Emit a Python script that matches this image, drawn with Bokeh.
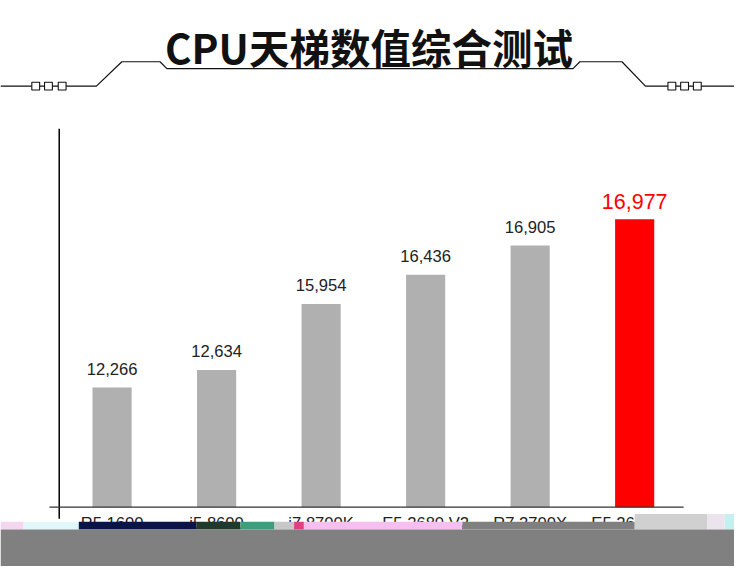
from bokeh.plotting import figure
from bokeh.models import Range1d
from bokeh.embed import file_html
from bokeh.resources import INLINE
from bokeh.core.properties import value

# ---------------- data ----------------
title_text = "CPU天梯数值综合测试"
cpus = ["R5 1600", "i5 8600", "i7 8700K", "E5 2680 V2", "R7 2700X", "E5 2696 V2"]
scores = [12266, 12634, 15954, 16436, 16905, 16977]
# bar heights as drawn in the picture (read against the red bar's scale)
drawn_heights = [7055, 8087, 11987, 13708, 15428, 16977]
highlight = [False, False, False, False, False, True]

# ---------------- layout (reference-picture pixels) ----------------
W, H = 734, 566              # canvas
REF_W, REF_H = 750, 582      # reference picture
BASE_Y = 521                 # baseline
FIRST_X = 114                # centre of first bar
STEP = 106.8                 # distance between bar centres
BAR_W = 40
PX_PER_UNIT = 296 / 16977    # vertical scale of the bars

idx = list(range(len(cpus)))
x_start = -FIRST_X / STEP
x_end = (REF_W - FIRST_X) / STEP
y_start = -(REF_H - BASE_Y) / PX_PER_UNIT
y_end = BASE_Y / PX_PER_UNIT

p = figure(width=W, height=H, x_range=Range1d(x_start, x_end),
           y_range=Range1d(y_start, y_end), min_border=0,
           toolbar_location=None, output_backend="svg",
           x_axis_location=None, y_axis_location=None,
           outline_line_color=None, background_fill_color="white",
           border_fill_color="white")
p.grid.visible = False
p.extra_x_ranges = {"px": Range1d(0, REF_W)}
p.extra_y_ranges = {"py": Range1d(REF_H, 0)}
PX = dict(x_range_name="px", y_range_name="py")

BAR_GREY = "#b0b0b0"
RED = "#ff0000"
TXT = "#222222"
colors = [RED if h else BAR_GREY for h in highlight]

# bars
p.vbar(x=idx, top=drawn_heights, width=BAR_W / STEP, bottom=0,
       fill_color=colors, line_color=None)

# value labels
g_i = [i for i in idx if not highlight[i]]
r_i = [i for i in idx if highlight[i]]
p.text(x=g_i, y=[drawn_heights[i] for i in g_i],
       text=[f"{scores[i]:,}" for i in g_i], text_align="center",
       text_baseline="alphabetic", y_offset=-19,
       text_font=value("Liberation Sans"), text_font_size="16.6px",
       text_color=TXT)
p.text(x=r_i, y=[drawn_heights[i] for i in r_i],
       text=[f"{scores[i]:,}" for i in r_i], text_align="center",
       text_baseline="alphabetic", y_offset=-18,
       text_font=value("Liberation Sans"), text_font_size="21.5px",
       text_color=RED)

# category labels
p.text(x=idx, y=[0] * len(idx), text=cpus, text_align="center",
       text_baseline="alphabetic", y_offset=16,
       text_font=value("Liberation Sans"), text_font_size="16.6px",
       text_color=TXT)

# axis lines
p.segment(x0=[60], y0=[132], x1=[60], y1=[533], line_color="#000000",
          line_width=1.5, **PX)
p.segment(x0=[50], y0=[BASE_Y], x1=[698], y1=[BASE_Y], line_color="#333333",
          line_width=1.3, **PX)

# header decoration
hx = [0, 98, 124, 163, 170, 585, 592, 635, 659, 750]
hy = [88, 88, 63, 63, 70, 70, 63, 63, 88, 88]
p.line(hx, hy, line_color="#111111", line_width=1.2, **PX)
sq_x = [36, 49, 63, 686, 699, 712]
p.rect(x=sq_x, y=[88] * 6, width=8, height=8, fill_color="white",
       line_color="#111111", line_width=1.1, **PX)

# title
p.text(x=[376.5], y=[47.2], text=[title_text], text_align="center",
       text_baseline="middle", text_font=value("Noto Sans CJK SC"),
       text_font_style="bold", text_font_size="40.5px", text_color="#111111",
       **PX)

# cut-off strip at bottom of the picture
strip_l = [0, 23, 80, 200, 245, 280, 300, 310, 472, 648, 722, 740]
strip_r = [23, 80, 200, 245, 280, 300, 310, 472, 648, 722, 740, 750]
strip_t = [536, 536, 536, 536, 536, 536, 536, 536, 536, 528, 528, 528]
strip_b = [544, 544, 544, 544, 544, 544, 544, 544, 544, 544, 544, 544]
strip_c = ["#f4d6ee", "#e2f7fa", "#0b1448", "#1f3a2c", "#3f9c7c", "#c8c8c8",
           "#e04080", "#f6bff0", "#808080", "#d0d0d0", "#ece4ec", "#c6efef"]
p.quad(left=strip_l, right=strip_r, top=strip_t, bottom=strip_b,
       fill_color=strip_c, line_color=None, **PX)
p.quad(left=[0], right=[REF_W], top=[544], bottom=[REF_H], fill_color="#808080",
       line_color=None, **PX)

open("out.html", "w").write(file_html(p, INLINE))
